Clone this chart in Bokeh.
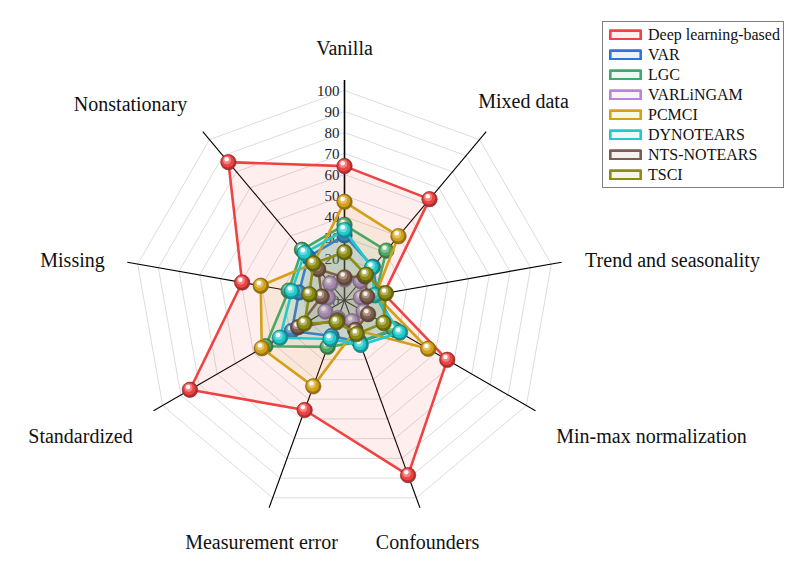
import math
from bokeh.plotting import figure
from bokeh.models import Range1d, Legend, LegendItem
from bokeh.core.properties import value
from bokeh.embed import file_html
from bokeh.resources import INLINE

# ---------------- data ----------------
categories = ["Vanilla", "Mixed data", "Trend and seasonality", "Min-max normalization",
              "Confounders", "Measurement error", "Standardized", "Missing", "Nonstationary"]
series_names = ["Deep learning-based", "VAR", "LGC", "VARLiNGAM", "PCMCI",
                "DYNOTEARS", "NTS-NOTEARS", "TSCI"]
deep_learning = [64, 63, 19, 56.5, 88.5, 55.5, 85, 49.5, 86]
var_vals = [31, 21, 16, 28, 21, 18, 29, 22, 27]
lgc_vals = [36, 31, 15, 27, 21, 23.5, 43.5, 27, 31.5]
varlingam_vals = [10, 12, 8, 10.5, 10.5, 9, 10.5, 8, 10.5]
pcmci_vals = [47, 40, 15, 46, 15, 43.5, 45.5, 40.5, 23]
dynotears_vals = [33.5, 20.5, 14.5, 30.5, 22.5, 19.5, 35.5, 25.5, 29.5]
nts_vals = [11, 15, 11, 13, 15, 10, 25.5, 11, 19.5]
tsci_vals = [23, 16, 20, 21.5, 17, 11, 22, 17, 23]
tick_values = [0, 10, 20, 30, 40, 50, 60, 70, 80, 90, 100]

all_series = [deep_learning, var_vals, lgc_vals, varlingam_vals, pcmci_vals,
              dynotears_vals, nts_vals, tsci_vals]
colors = ["#EF4343", "#2F72DA", "#3DAA6C", "#B884E0", "#D3A017", "#1FCACC", "#7E5A52", "#8C8C12"]

# ---------------- layout ----------------
W, H = 790, 560
S = 2.1            # px per value unit
CX, CY = 344, 300  # centre in figure px (from left, from top)
R_SPOKE = 105
FONT = "Liberation Serif"
# label centres, px relative to centre (x right, y down)
label_offsets = [(0, -253), (179, -200), (328, -41), (307, 135), (83, 241),
                 (-83, 241), (-264, 135), (-272, -41), (-214, -197)]

p = figure(width=W, height=H, output_backend="svg", toolbar_location=None,
           x_range=Range1d(-CX / S, (W - CX) / S), y_range=Range1d(-(H - CY) / S, CY / S),
           x_axis_location=None, y_axis_location=None, min_border=0)
p.xgrid.visible = False
p.ygrid.visible = False
p.outline_line_color = None
p.background_fill_color = "white"

n = len(categories)
angles = [2 * math.pi * k / n for k in range(n)]


def polar(vals):
    xs = [v * math.sin(a) for v, a in zip(vals, angles)]
    ys = [v * math.cos(a) for v, a in zip(vals, angles)]
    return xs, ys


# grid rings
for g in tick_values[1:]:
    gx, gy = polar([g] * n)
    p.line(gx + [gx[0]], gy + [gy[0]], line_color="#DCDCDC", line_width=1)

# spokes
for k, a in enumerate(angles):
    p.line([0, R_SPOKE * math.sin(a)], [0, R_SPOKE * math.cos(a)],
           line_color="black", line_width=1.6 if k == 0 else 1.1)

# tick labels
p.text(x=[-5 / S] * len(tick_values), y=tick_values, text=[str(t) for t in tick_values],
       text_font=value(FONT), text_font_size="15px", text_color="#222222",
       text_align="right", text_baseline="middle")

# category labels
p.text(x=[o[0] / S for o in label_offsets], y=[-o[1] / S for o in label_offsets], text=categories,
       text_font=value(FONT), text_font_size="20px", text_color="#111111",
       text_align="center", text_baseline="middle")


def shade(hexc, f):
    h = hexc.lstrip("#")
    r, g, b = (int(h[i:i + 2], 16) for i in (0, 2, 4))
    if f < 1:
        r, g, b = (int(c * f) for c in (r, g, b))
    else:
        t = f - 1
        r, g, b = (int(c + (255 - c) * t) for c in (r, g, b))
    return "#%02x%02x%02x" % (r, g, b)


items = []
for name, vals, col in zip(series_names, all_series, colors):
    xs, ys = polar(vals)
    pr = p.patch(xs + [xs[0]], ys + [ys[0]], fill_color=col, fill_alpha=0.09,
                 line_color=col, line_width=2.6, line_join="round")
    items.append(LegendItem(label=name, renderers=[pr]))
    # sphere-like markers
    p.scatter(xs, ys, size=15.5, fill_color=shade(col, 0.72), line_color=shade(col, 0.6), line_width=0.6)
    p.scatter([x - 0.6 / S for x in xs], [y + 0.8 / S for y in ys], size=12.5,
              fill_color=col, line_color=None)
    p.scatter([x - 1.4 / S for x in xs], [y + 2.0 / S for y in ys], size=8,
              fill_color=shade(col, 1.35), line_color=None)
    p.scatter([x - 1.8 / S for x in xs], [y + 2.8 / S for y in ys], size=4.5,
              fill_color="white", fill_alpha=0.95, line_color=None)

legend = Legend(items=items, location=(602, H - 188), orientation="vertical",
                label_text_font=FONT, label_text_font_size="16px", label_text_color="#111111",
                glyph_width=38, glyph_height=11, label_height=19, label_standoff=4,
                spacing=1, padding=3, margin=0,
                border_line_color="black", border_line_width=1,
                background_fill_color="white", background_fill_alpha=1)
p.add_layout(legend, "center")

open("out.html", "w").write(file_html(p, INLINE))
